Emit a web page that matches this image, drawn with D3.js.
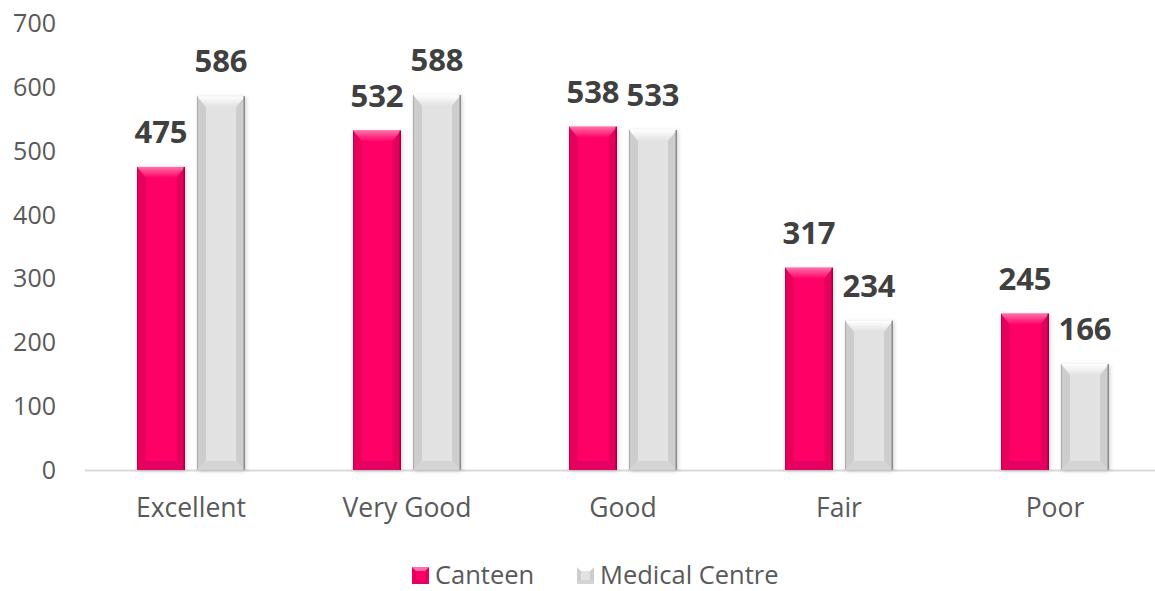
<!DOCTYPE html>
<html><head><meta charset="utf-8">
<script src="https://cdn.jsdelivr.net/npm/d3@7"></script>
<style>
html,body{margin:0;padding:0;background:#fff;}
svg{display:block;font-family:"Open Sans","Liberation Sans",sans-serif;}
</style></head><body>
<svg id="c" width="1155" height="591"></svg>
<script>
const categories = ["Excellent","Very Good","Good","Fair","Poor"];
const seriesNames = ["Canteen","Medical Centre"];
const canteen = [475,532,538,317,245];
const medical = [586,588,533,234,166];
const yTicks = [0,100,200,300,400,500,600,700];

const svg = d3.select("#c");
const x = d3.scaleBand().domain(categories).range([83,1163]);
const x1 = d3.scaleBand().domain(seriesNames).range([0,108]).paddingInner(0.2);
const y = d3.scaleLinear().domain([0,700]).range([470,23.4]);

const styles = {
  "Canteen": {id:"p", base:"#FF0066", top:"#FF6FA8", side:"#E6005C", edge:"#9E0040", bottom:"#E40062"},
  "Medical Centre": {id:"g", base:"#E2E2E2", top:"#FFFFFF", side:"#CDCDCD", edge:"#8A8A8A", bottom:"#D4D4D4"}
};

const defs = svg.append("defs");
const f = defs.append("filter").attr("id","sh").attr("x","-20%").attr("y","-10%").attr("width","140%").attr("height","120%");
f.append("feDropShadow").attr("dx",1).attr("dy",1).attr("stdDeviation",2).attr("flood-color","#000").attr("flood-opacity",0.18);
Object.values(styles).forEach(st=>{
  const lg = defs.append("linearGradient").attr("id","top"+st.id).attr("x1",0).attr("y1",0).attr("x2",0).attr("y2",1);
  lg.append("stop").attr("offset","0%").attr("stop-color",st.top);
  lg.append("stop").attr("offset","100%").attr("stop-color",st.base);
});

// y axis labels
svg.append("g").selectAll("text").data(yTicks).join("text")
  .attr("x",56).attr("y",d=>y(d)).attr("dy","0.35em")
  .attr("text-anchor","end").attr("font-size",25).attr("fill","#595959").text(d=>d);

// baseline
svg.append("line").attr("x1",85).attr("x2",1155).attr("y1",y(0)+0.5).attr("y2",y(0)+0.5)
  .attr("stroke","#D9D9D9").attr("stroke-width",2);

const data = [];
categories.forEach((c,i)=>{
  data.push({cat:c, s:"Canteen", v:canteen[i]});
  data.push({cat:c, s:"Medical Centre", v:medical[i]});
});

const bars = svg.append("g").selectAll("g").data(data).join("g")
  .attr("transform",d=>`translate(${x(d.cat)+54+x1(d.s)},0)`);

bars.each(function(d){
  const g = d3.select(this);
  const w = x1.bandwidth();
  const t = y(d.v), b = y(0), h = b - t;
  const st = styles[d.s];
  const bv = 9;
  g.append("rect").attr("x",0).attr("y",t).attr("width",w).attr("height",h).attr("fill",st.base).attr("filter","url(#sh)");
  g.append("polygon").attr("points",`0,${t} ${bv},${t+bv} ${bv},${b-bv} 0,${b}`).attr("fill",st.side);
  g.append("polygon").attr("points",`${w},${t} ${w-bv},${t+bv} ${w-bv},${b-bv} ${w},${b}`).attr("fill",st.side);
  g.append("polygon").attr("points",`0,${t} ${w},${t} ${w-bv},${t+bv+2} ${bv},${t+bv+2}`).attr("fill",`url(#top${st.id})`);
  g.append("polygon").attr("points",`0,${b} ${w},${b} ${w-bv},${b-bv} ${bv},${b-bv}`).attr("fill",st.bottom);
  g.append("rect").attr("x",w-1.5).attr("y",t).attr("width",1.5).attr("height",h).attr("fill",st.edge);
  g.append("rect").attr("x",0).attr("y",t).attr("width",1).attr("height",h).attr("fill",st.edge).attr("opacity",0.5);
});

// value labels
bars.append("text")
  .attr("x",x1.bandwidth()/2).attr("y",d=>y(d.v)-24)
  .attr("text-anchor","middle").attr("font-size",31).attr("font-weight","bold")
  .attr("fill","#404040").text(d=>d.v);

// category labels
svg.append("g").selectAll("text").data(categories).join("text")
  .attr("x",d=>x(d)+x.bandwidth()/2).attr("y",508).attr("dy","0.35em")
  .attr("text-anchor","middle").attr("font-size",26.5).attr("fill","#595959").text(d=>d);

// legend
const leg = [{s:"Canteen", x:412},{s:"Medical Centre", x:577}];
const legG = svg.append("g");
leg.forEach(d=>{
  const st = styles[d.s]; const w=17, bv=4, x0=d.x, y0=567;
  legG.append("rect").attr("x",x0).attr("y",y0).attr("width",w).attr("height",w).attr("fill",st.base);
  legG.append("polygon").attr("points",`${x0},${y0} ${x0+bv},${y0+bv} ${x0+bv},${y0+w-bv} ${x0},${y0+w}`).attr("fill",st.side);
  legG.append("polygon").attr("points",`${x0+w},${y0} ${x0+w-bv},${y0+bv} ${x0+w-bv},${y0+w-bv} ${x0+w},${y0+w}`).attr("fill",st.side);
  legG.append("polygon").attr("points",`${x0},${y0} ${x0+w},${y0} ${x0+w-bv},${y0+bv} ${x0+bv},${y0+bv}`).attr("fill",st.top);
  legG.append("polygon").attr("points",`${x0},${y0+w} ${x0+w},${y0+w} ${x0+w-bv},${y0+w-bv} ${x0+bv},${y0+w-bv}`).attr("fill",st.bottom);
  legG.append("text").attr("x",x0+23).attr("y",y0+8.5).attr("dy","0.35em").attr("font-size",25.5).attr("fill","#595959").text(d.s);
});
</script>
</body></html>
